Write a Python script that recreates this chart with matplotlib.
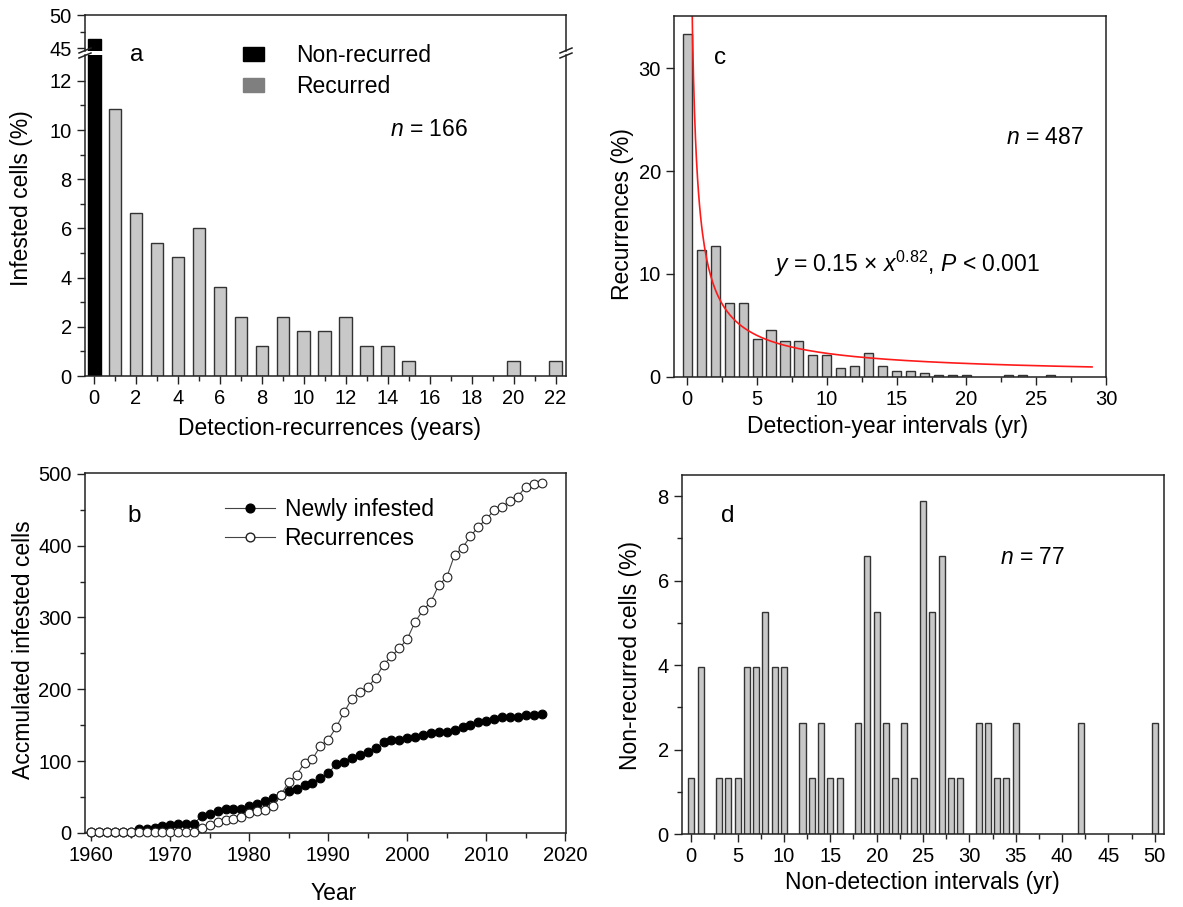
import matplotlib
matplotlib.use('Agg')
import matplotlib.pyplot as plt
from matplotlib.patches import Patch
from matplotlib.lines import Line2D
from matplotlib.ticker import MultipleLocator, FixedLocator
import numpy as np

plt.rcParams['font.family'] = ['Liberation Sans', 'DejaVu Sans']
plt.rcParams['mathtext.fontset'] = 'custom'
plt.rcParams['mathtext.rm'] = 'Liberation Sans'
plt.rcParams['mathtext.it'] = 'Liberation Sans:italic'

# ---------------- data ----------------
# panel a
a_nonrec_x = [0]
a_nonrec_vals = [46.4]
a_rec_x = [1, 2, 3, 4, 5, 6, 7, 8, 9, 10, 11, 12, 13, 14, 15, 20, 22]
a_rec_vals = [10.84, 6.63, 5.42, 4.82, 6.02, 3.61, 2.41, 1.20, 2.41, 1.81,
              1.81, 2.41, 1.20, 1.20, 0.60, 0.60, 0.60]
a_xticks = list(range(0, 23, 2))

# panel b
b_years = list(range(1960, 2018))
b_newly = [1, 1, 1, 1, 1, 2, 5, 6, 7, 10,
           11, 12, 13, 13, 24, 26, 30, 33, 33, 34,
           38, 41, 45, 49, 53, 59, 61, 67, 70, 76,
           83, 96, 99, 104, 108, 113, 118, 126, 130, 130,
           132, 134, 136, 139, 140, 141, 143, 147, 150, 154,
           156, 158, 161, 161, 161, 164, 164, 166]
b_recur = [1, 1, 1, 1, 1, 1, 1, 1, 1, 1,
           1, 1, 1, 2, 7, 11, 15, 18, 19, 22,
           28, 30, 32, 38, 53, 71, 81, 98, 103, 121,
           130, 147, 168, 187, 196, 203, 216, 234, 246, 257,
           270, 294, 310, 322, 345, 356, 387, 397, 413, 426,
           437, 449, 454, 462, 468, 482, 485, 487]

# panel c
c_x = [0, 1, 2, 3, 4, 5, 6, 7, 8, 9, 10, 11, 12, 13, 14, 15, 16, 17, 18, 19, 20, 23, 24, 26]
c_vals = [33.3, 12.3, 12.7, 7.2, 7.2, 3.7, 4.5, 3.5, 3.5, 2.1, 2.1, 0.8, 1.0, 2.3,
          1.0, 0.6, 0.6, 0.4, 0.2, 0.2, 0.2, 0.2, 0.2, 0.2]
c_fit_coef = 15.0
c_fit_exp = -0.82
c_fit_range = (0.3, 29.0)

# panel d
d_x = [0, 1, 3, 4, 5, 6, 7, 8, 9, 10, 12, 13, 14, 15, 16, 18, 19, 20, 21, 22,
       23, 24, 25, 26, 27, 28, 29, 31, 32, 33, 34, 35, 42, 50]
d_vals = [1.32, 3.95, 1.32, 1.32, 1.32, 3.95, 3.95, 5.26, 3.95, 3.95, 2.63, 1.32,
          2.63, 1.32, 1.32, 2.63, 6.58, 5.26, 2.63, 1.32, 2.63, 1.32, 7.89, 5.26,
          6.58, 1.32, 1.32, 2.63, 2.63, 1.32, 1.32, 2.63, 2.63, 2.63]

# ---------------- figure ----------------
W, H = 1183, 907
fig = plt.figure(figsize=(W / 100, H / 100), dpi=100)

def px_axes(l, t, r, b):
    return fig.add_axes([l / W, 1 - b / H, (r - l) / W, (b - t) / H])

def ftext(x, y, s, **kw):
    return fig.text(x / W, 1 - y / H, s, **kw)

TICK_FS = 14.5
LAB_FS = 16.5
TXT_FS = 16.5
SPINE = '#222222'
BAR_GRAY = '#c8c8c8'
MS = 6.3

def style(ax):
    for s in ax.spines.values():
        s.set_linewidth(1.1)
        s.set_color(SPINE)
    ax.tick_params(which='both', direction='out', width=1.0, colors=SPINE,
                   labelcolor='black', labelsize=TICK_FS, top=False, right=False)
    ax.tick_params(which='major', length=6)
    ax.tick_params(which='minor', length=3.5)

# ---- panel a (broken axis) ----
ax_at = px_axes(85, 15, 566, 51)
ax_ab = px_axes(85, 55, 566, 376)
for ax in (ax_at, ax_ab):
    ax.bar(a_nonrec_x, a_nonrec_vals, width=0.62, color='black', edgecolor='black', lw=1)
    ax.bar(a_rec_x, a_rec_vals, width=0.6, color=BAR_GRAY, edgecolor='#333333', lw=1)
    ax.set_xlim(-0.43, 22.5)
    style(ax)
ax_at.set_ylim(44.6, 50)
ax_at.yaxis.set_major_locator(FixedLocator([45, 50]))
ax_at.yaxis.set_minor_locator(FixedLocator([47.5]))
ax_at.spines['bottom'].set_visible(False)
ax_at.tick_params(axis='x', which='both', bottom=False, labelbottom=False)
ax_ab.set_ylim(0, 13.05)
ax_ab.spines['top'].set_visible(False)
ax_ab.yaxis.set_major_locator(FixedLocator([0, 2, 4, 6, 8, 10, 12]))
ax_ab.yaxis.set_minor_locator(FixedLocator([1, 3, 5, 7, 9, 11]))
ax_ab.set_xticks(a_xticks)
ax_ab.xaxis.set_minor_locator(MultipleLocator(1))
# break marks
for xp in (85, 566):
    for dy in (-2.5, 2.5):
        y0 = 53 + dy
        fig.add_artist(Line2D([(xp - 6) / W, (xp + 6) / W],
                              [1 - (y0 + 2.5) / H, 1 - (y0 - 2.5) / H],
                              color=SPINE, lw=1.1))
ftext(137, 55, 'a', fontsize=TXT_FS + 1, ha='center', va='center')
ftext(390, 130, r'$\mathit{n}$ = 166', fontsize=TXT_FS, ha='left', va='center')
fig.legend(handles=[Patch(facecolor='black', edgecolor='black', label='Non-recurred'),
                    Patch(facecolor='#7f7f7f', edgecolor='#7f7f7f', label='Recurred')],
           loc='upper left', bbox_to_anchor=(243 / W, 1 - 44 / H), frameon=False,
           fontsize=TXT_FS, handlelength=0.9, handleheight=0.55, handletextpad=1.4,
           labelspacing=0.35, borderaxespad=0, borderpad=0)
ftext(22, 198, 'Infested cells (%)', fontsize=LAB_FS, rotation=90, ha='center', va='center')
ftext(330, 428, 'Detection-recurrences (years)', fontsize=LAB_FS, ha='center', va='center')

# ---- panel b ----
ax_b = px_axes(85, 473, 566, 833)
ax_b.plot(b_years, b_newly, '-', color='#444444', lw=0.8, marker='o', ms=MS,
          mfc='black', mec='black', mew=0.8, clip_on=False, zorder=3)
ax_b.plot(b_years, b_recur, '-', color='#444444', lw=0.8, marker='o', ms=MS,
          mfc='white', mec='#222222', mew=0.8, clip_on=False, zorder=3)
ax_b.set_xlim(1959.2, 2020.1)
ax_b.set_ylim(0, 501)
style(ax_b)
ax_b.set_xticks([1960, 1970, 1980, 1990, 2000, 2010, 2020])
ax_b.xaxis.set_minor_locator(MultipleLocator(5))
ax_b.set_yticks([0, 100, 200, 300, 400, 500])
ax_b.yaxis.set_minor_locator(MultipleLocator(50))
ax_b.legend(handles=[Line2D([], [], color='#444444', lw=0.8, marker='o', ms=MS,
                            mfc='black', mec='black', label='Newly infested'),
                     Line2D([], [], color='#444444', lw=0.8, marker='o', ms=MS,
                            mfc='white', mec='#222222', label='Recurrences')],
            loc='upper left', bbox_to_anchor=((225 - 85) / 481, (833 - 498) / 360),
            frameon=False, fontsize=TXT_FS, handlelength=2.2, handletextpad=0.4,
            labelspacing=0.25, borderaxespad=0, borderpad=0)
ftext(134, 516, 'b', fontsize=TXT_FS + 1, ha='center', va='center')
ftext(24, 650, 'Accmulated infested cells', fontsize=LAB_FS, rotation=90, ha='center', va='center')
ftext(334, 893, 'Year', fontsize=LAB_FS, ha='center', va='center')

# ---- panel c ----
ax_c = px_axes(674, 15.7, 1106, 376.7)
ax_c.bar(c_x, c_vals, width=0.65, color='#c4c4c4', edgecolor='#333333', lw=1)
xf = np.linspace(c_fit_range[0], c_fit_range[1], 400)
ax_c.plot(xf, c_fit_coef * xf ** c_fit_exp, color='#ff1a1a', lw=1.2)
ax_c.set_xlim(-0.95, 30.0)
ax_c.set_ylim(0, 35.1)
style(ax_c)
ax_c.set_xticks([0, 5, 10, 15, 20, 25, 30])
ax_c.xaxis.set_minor_locator(MultipleLocator(2.5))
ax_c.set_yticks([0, 10, 20, 30])
ftext(720, 58, 'c', fontsize=TXT_FS + 1, ha='center', va='center')
ftext(1006, 137, r'$\mathit{n}$ = 487', fontsize=TXT_FS, ha='left', va='center')
ftext(774, 264, r'$\mathit{y}$ = 0.15 × $\mathit{x}^{\mathrm{0.82}}$, $\mathit{P}$ < 0.001',
      fontsize=TXT_FS, ha='left', va='center')
ftext(622, 214, 'Recurrences (%)', fontsize=LAB_FS, rotation=90, ha='center', va='center')
ftext(888, 426, 'Detection-year intervals (yr)', fontsize=LAB_FS, ha='center', va='center')

# ---- panel d ----
ax_d = px_axes(682, 475, 1164, 834)
ax_d.bar(d_x, d_vals, width=0.65, color=BAR_GRAY, edgecolor='#333333', lw=1)
ax_d.set_xlim(-1.0, 51.0)
ax_d.set_ylim(0, 8.5)
style(ax_d)
ax_d.set_xticks(list(range(0, 51, 5)))
ax_d.xaxis.set_minor_locator(MultipleLocator(2.5))
ax_d.set_yticks([0, 2, 4, 6, 8])
ax_d.yaxis.set_minor_locator(MultipleLocator(1))
ftext(728, 516, 'd', fontsize=TXT_FS + 1, ha='center', va='center')
ftext(1000, 558, r'$\mathit{n}$ = 77', fontsize=TXT_FS, ha='left', va='center')
ftext(630, 655, 'Non-recurred cells (%)', fontsize=LAB_FS, rotation=90, ha='center', va='center')
ftext(922, 882, 'Non-detection intervals (yr)', fontsize=LAB_FS, ha='center', va='center')

fig.savefig('out.png', dpi=100, facecolor='white')
